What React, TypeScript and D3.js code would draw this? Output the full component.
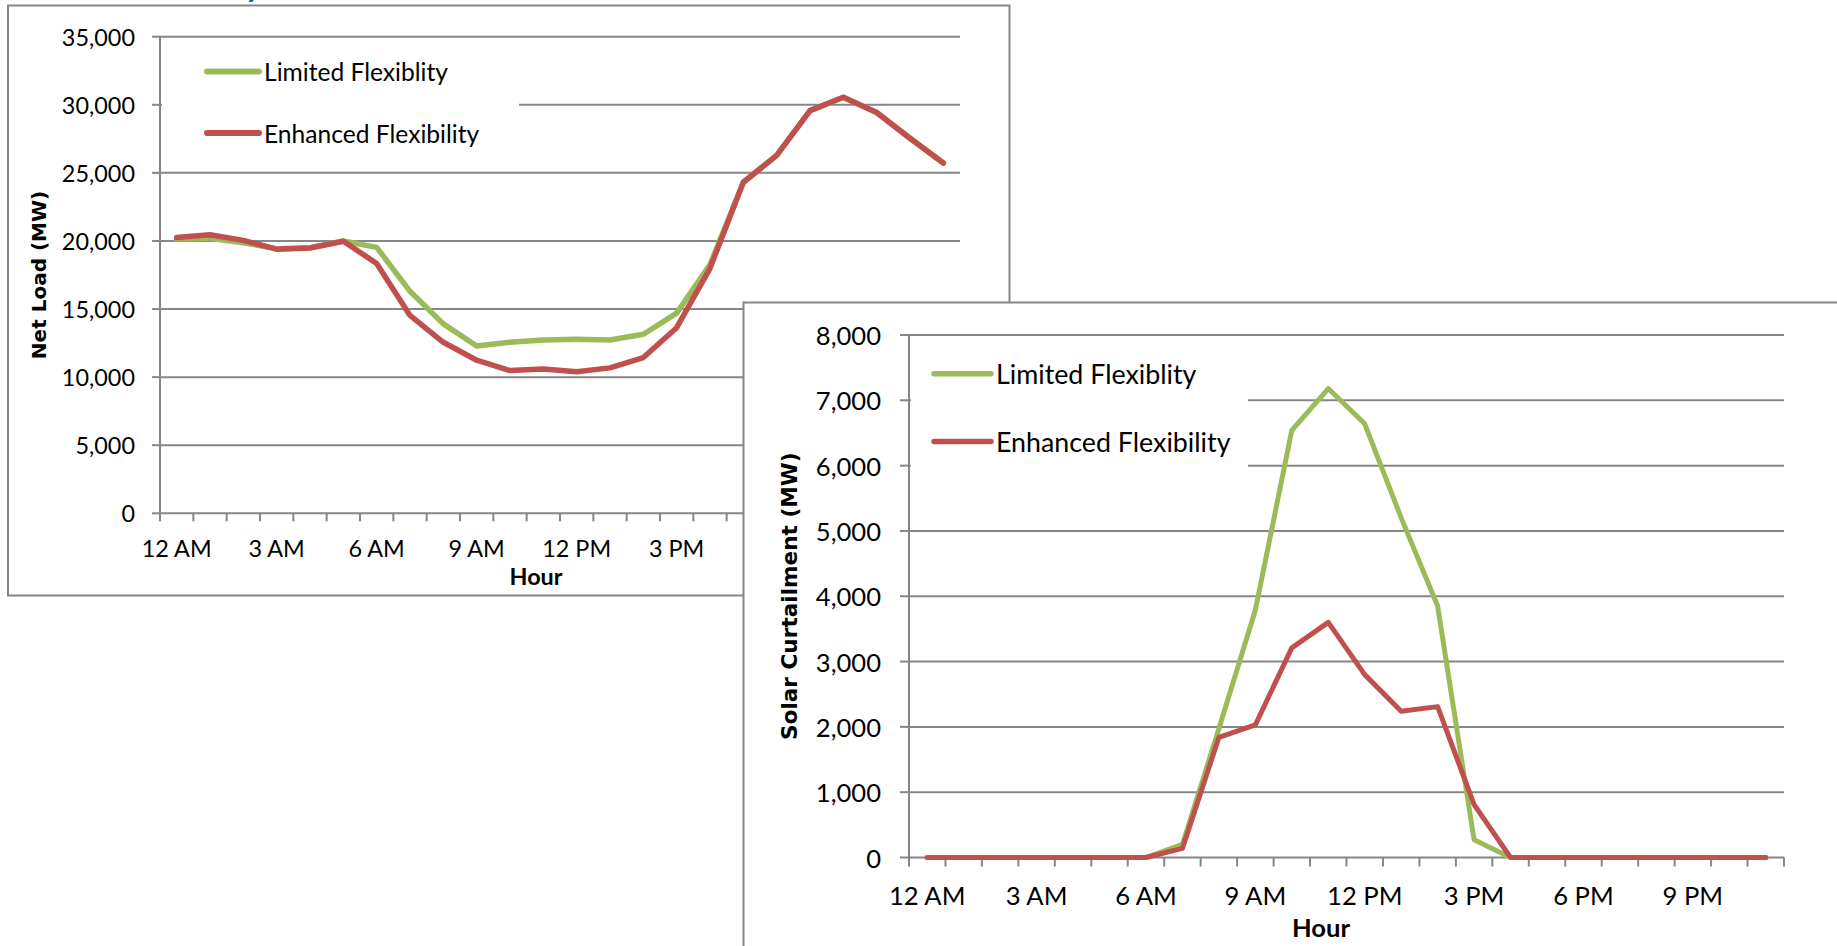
import React from "react";
import * as d3 from "d3";

// ---------- data ----------
const hours = [0, 1, 2, 3, 4, 5, 6, 7, 8, 9, 10, 11, 12, 13, 14, 15, 16, 17, 18, 19, 20, 21, 22, 23];
const hourTickValues = [0, 3, 6, 9, 12, 15, 18, 21];
const hourTickLabels = ["12 AM", "3 AM", "6 AM", "9 AM", "12 PM", "3 PM", "6 PM", "9 PM"];
const seriesNames = ["Limited Flexiblity", "Enhanced Flexibility"];

const netLoadLimited = [20150, 20200, 19870, 19420, 19500, 20000, 19530, 16300, 13910, 12280, 12560, 12730, 12790, 12730, 13150, 14700, 18270, 24310, 26280, 29570, 30550, 29430, 27540, 25720];
const netLoadEnhanced = [20250, 20450, 20040, 19400, 19480, 19980, 18350, 14530, 12560, 11240, 10480, 10600, 10400, 10680, 11440, 13630, 17990, 24310, 26280, 29570, 30550, 29430, 27540, 25720];
const netLoadTicks = [0, 5000, 10000, 15000, 20000, 25000, 30000, 35000];

const curtailLimited = [0, 0, 0, 0, 0, 0, 0, 200, 1970, 3790, 6540, 7180, 6640, 5200, 3850, 270, 0, 0, 0, 0, 0, 0, 0, 0];
const curtailEnhanced = [0, 0, 0, 0, 0, 0, 0, 140, 1840, 2030, 3210, 3600, 2800, 2240, 2310, 810, 0, 0, 0, 0, 0, 0, 0, 0];
const curtailTicks = [0, 1000, 2000, 3000, 4000, 5000, 6000, 7000, 8000];

// ---------- styles ----------
const GRAY = "#868686";
const GREEN = "#9BBB59";
const RED = "#C0504D";
const LABEL_FONT = "Lato, 'Open Sans', sans-serif";
const TITLE_FONT = "'DejaVu Sans', Verdana, sans-serif";

type Cfg = {
  box: [number, number, number, number];
  plot: { left: number; right: number; top: number; bottom: number };
  ticks: number[];
  yTitle: string;
  yTitleX: number;
  yTitleSize: number;
  labelSize: number;
  legendSize: number;
  yLabelRight: number;
  xLabelY: number;
  xTitle: [number, number];
  legendBox: [number, number, number, number];
  legendLine: [number, number];
  legendY: [number, number];
  legendTextX: number;
  lineWidth: number;
  tickLen: number;
};

function Chart({ cfg, limited, enhanced }: { cfg: Cfg; limited: number[]; enhanced: number[] }) {
  const { plot } = cfg;
  const x = d3.scaleBand<number>().domain(hours).range([plot.left, plot.right]).paddingInner(0).paddingOuter(0);
  const yMax = cfg.ticks[cfg.ticks.length - 1];
  const y = d3.scaleLinear().domain([0, yMax]).range([plot.bottom, plot.top]);
  const cx = (h: number) => (x(h) as number) + x.bandwidth() / 2;
  const line = d3
    .line<number>()
    .x((_, i) => cx(hours[i]))
    .y((d) => y(d));
  const boundaries = [...hours.map((h) => x(h) as number), plot.right];
  const fmt = d3.format(",");
  const [bx, by, bw, bh] = cfg.box;
  const [lx, ly, lw, lh] = cfg.legendBox;
  const series = [
    { name: seriesNames[0], values: limited, color: GREEN },
    { name: seriesNames[1], values: enhanced, color: RED },
  ];
  return (
    <g>
      <rect x={bx} y={by} width={bw} height={bh} fill="#fff" stroke={GRAY} strokeWidth={2} />
      {cfg.ticks.map((t) => (
        <line key={"g" + t} x1={plot.left} x2={plot.right} y1={y(t)} y2={y(t)} stroke={GRAY} strokeWidth={2} />
      ))}
      <rect x={lx} y={ly} width={lw} height={lh} fill="#fff" />
      {cfg.ticks.map((t) => (
        <line key={"yt" + t} x1={plot.left - cfg.tickLen} x2={plot.left} y1={y(t)} y2={y(t)} stroke={GRAY} strokeWidth={2} />
      ))}
      <line x1={plot.left} x2={plot.left} y1={plot.top} y2={plot.bottom} stroke={GRAY} strokeWidth={2} />
      {boundaries.map((b, i) => (
        <line key={"xt" + i} x1={b} x2={b} y1={plot.bottom} y2={plot.bottom + cfg.tickLen} stroke={GRAY} strokeWidth={2} />
      ))}
      {cfg.ticks.map((t) => (
        <text
          key={"yl" + t}
          x={cfg.yLabelRight}
          y={y(t)}
          textAnchor="end"
          dominantBaseline="central"
          fontFamily={LABEL_FONT}
          fontSize={cfg.labelSize}
          fill="#000"
        >
          {fmt(t)}
        </text>
      ))}
      {hourTickValues.map((h, i) => (
        <text
          key={"xl" + h}
          x={cx(h)}
          y={cfg.xLabelY}
          textAnchor="middle"
          dominantBaseline="central"
          fontFamily={LABEL_FONT}
          fontSize={cfg.labelSize}
          fill="#000"
        >
          {hourTickLabels[i]}
        </text>
      ))}
      <text
        x={cfg.xTitle[0]}
        y={cfg.xTitle[1]}
        textAnchor="middle"
        dominantBaseline="central"
        fontFamily={LABEL_FONT}
        fontWeight="bold"
        fontSize={cfg.labelSize}
        fill="#000"
      >
        Hour
      </text>
      <text
        transform={`translate(${cfg.yTitleX},${(plot.top + plot.bottom) / 2}) rotate(-90)`}
        textAnchor="middle"
        dominantBaseline="central"
        fontFamily={TITLE_FONT}
        fontWeight="bold"
        fontSize={cfg.yTitleSize}
        fill="#000"
      >
        {cfg.yTitle}
      </text>
      {series.map((s) => (
        <path
          key={s.name}
          d={line(s.values) || ""}
          fill="none"
          stroke={s.color}
          strokeWidth={cfg.lineWidth}
          strokeLinejoin="round"
          strokeLinecap="round"
        />
      ))}
      {series.map((s, i) => (
        <g key={"lg" + i}>
          <line
            x1={cfg.legendLine[0]}
            x2={cfg.legendLine[1]}
            y1={cfg.legendY[i]}
            y2={cfg.legendY[i]}
            stroke={s.color}
            strokeWidth={cfg.lineWidth + 0.5}
            strokeLinecap="round"
          />
          <text
            x={cfg.legendTextX}
            y={cfg.legendY[i]}
            dominantBaseline="central"
            fontFamily={LABEL_FONT}
            fontSize={cfg.legendSize}
            fill="#000"
          >
            {s.name}
          </text>
        </g>
      ))}
    </g>
  );
}

const chart1: Cfg = {
  box: [8, 5.5, 1001.5, 590],
  plot: { left: 160, right: 960, top: 36.7, bottom: 513.3 },
  ticks: netLoadTicks,
  yTitle: "Net Load (MW)",
  yTitleX: 39,
  yTitleSize: 20,
  labelSize: 23.4,
  legendSize: 24.6,
  yLabelRight: 135,
  xLabelY: 548,
  xTitle: [536, 576],
  legendBox: [162, 42, 357, 123],
  legendLine: [207, 259],
  legendY: [71.6, 133],
  legendTextX: 264,
  lineWidth: 5.5,
  tickLen: 8,
};

const chart2: Cfg = {
  box: [743.5, 302.5, 1200, 700],
  plot: { left: 909, right: 1784, top: 335, bottom: 857.5 },
  ticks: curtailTicks,
  yTitle: "Solar Curtailment (MW)",
  yTitleX: 789,
  yTitleSize: 21.6,
  labelSize: 25.6,
  legendSize: 26.8,
  yLabelRight: 881,
  xLabelY: 895,
  xTitle: [1321, 926.5],
  legendBox: [911, 345, 337, 145],
  legendLine: [934, 991],
  legendY: [373.7, 441.5],
  legendTextX: 996,
  lineWidth: 5,
  tickLen: 9,
};

export default function App() {
  return (
    <svg
      width={1837}
      height={946}
      style={{ position: "absolute", left: 0, top: 0, background: "#fff" }}
    >
      <rect x={0} y={0} width={1837} height={946} fill="#fff" />
      <text x={245} y={-3} fontFamily={LABEL_FONT} fontWeight="bold" fontSize={32} fill="#0070C0">
        y
      </text>
      <Chart cfg={chart1} limited={netLoadLimited} enhanced={netLoadEnhanced} />
      <Chart cfg={chart2} limited={curtailLimited} enhanced={curtailEnhanced} />
    </svg>
  );
}
